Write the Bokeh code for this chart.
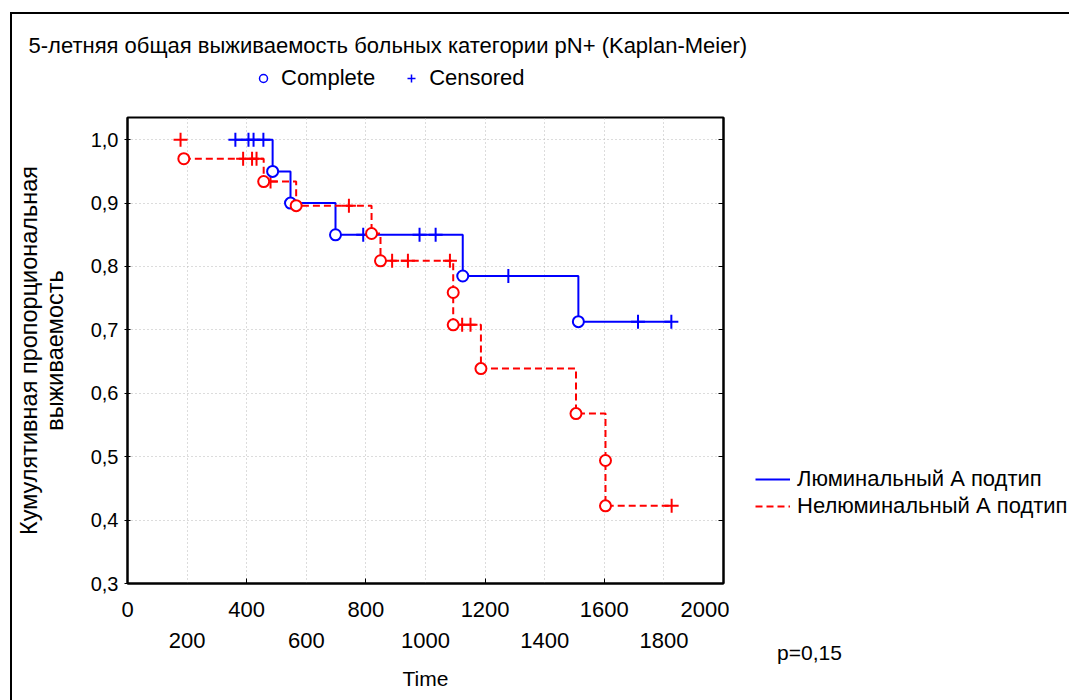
from bokeh.plotting import figure
from bokeh.layouts import column, row
from bokeh.models import (Range1d, FixedTicker, CustomJSTickFormatter, LinearAxis,
                          Legend, LegendItem, InlineStyleSheet)
from bokeh.core.properties import value
from bokeh.embed import file_html
from bokeh.resources import INLINE

NAN = float("nan")

# ---------------- data ----------------
title_text = "5-летняя общая выживаемость больных категории pN+ (Kaplan-Meier)"
y_label = "Кумулятивная пропорциональная\nвыживаемость"
x_label = "Time"
p_text = "p=0,15"
marker_names = ["Complete", "Censored"]
group_names = ["Люминальный А подтип", "Нелюминальный А подтип"]

# Luminal A (blue): complete (event) times / survival, censored times / survival
lum_event_t = [487, 547, 698, 1125, 1513]
lum_event_s = [0.950, 0.900, 0.850, 0.785, 0.713]
lum_cens_t = [362, 406, 423, 456, 791, 980, 1034, 1278, 1713, 1825]
lum_cens_s = [1.0, 1.0, 1.0, 1.0, 0.850, 0.850, 0.850, 0.785, 0.713, 0.713]
lum_start = (362, 1.0)

# Non-luminal A (red)
non_event_t = [189, 457, 566, 819, 849, 1093, 1093, 1186, 1505, 1604, 1604]
non_event_s = [0.970, 0.934, 0.896, 0.852, 0.809, 0.759, 0.708, 0.639, 0.568, 0.494, 0.4225]
non_cens_t = [178, 388, 418, 433, 480, 743, 888, 941, 1082, 1123, 1151, 1826]
non_cens_s = [1.0, 0.970, 0.970, 0.970, 0.934, 0.896, 0.809, 0.809, 0.809, 0.708, 0.708, 0.4225]
non_start = (189, 0.970)

x_ticks_row1 = [0, 400, 800, 1200, 1600, 2000]
x_ticks_row2 = [200, 600, 1000, 1400, 1800]
y_ticks = [0.3, 0.4, 0.5, 0.6, 0.7, 0.8, 0.9, 1.0]

BLUE = "#0000ff"
RED = "#ff0000"
FONT = "Liberation Sans"


def km_steps(start, ev_t, ev_s, cens_t):
    xs, ys = [start[0]], [start[1]]
    cur = start[1]
    for t, s in zip(ev_t, ev_s):
        xs += [t, t]
        ys += [cur, s]
        cur = s
    end_t = max([start[0]] + list(ev_t) + list(cens_t))
    xs.append(end_t)
    ys.append(cur)
    return xs, ys


leg_style = dict(padding=0, margin=0, border_line_color=None, background_fill_alpha=0,
                 label_text_font=FONT, label_text_color="black", label_height=20)

# ---------------- top strip: title + marker legend (page coords) ----------------
top = figure(width=1069, height=115, output_backend="svg", toolbar_location=None,
             x_range=Range1d(0, 1069), y_range=Range1d(115, 0), min_border=0,
             x_axis_location=None, y_axis_location=None, title_location=None)
top.grid.visible = False
top.outline_line_color = None
top.text(x=[28], y=[45], text=[title_text], text_font=value(FONT), text_font_size="22px",
         text_baseline="middle", text_align="left", text_color="black")
r_c = top.scatter([NAN], [NAN], marker="circle", fill_color="white", line_color=BLUE,
                  line_width=1.5)
r_p = top.scatter([NAN], [NAN], marker="cross", line_color=BLUE, line_width=1.5)
top_leg = Legend(items=[LegendItem(label=marker_names[0], renderers=[r_c]),
                        LegendItem(label=marker_names[1], renderers=[r_p])],
                 orientation="horizontal", location=(253, 24),
                 glyph_width=20, glyph_height=20, label_standoff=8, spacing=26,
                 label_text_font_size="22px", **leg_style)
top.add_layout(top_leg, "center")

# ---------------- main plot ----------------
p = figure(width=729, height=585, output_backend="svg", toolbar_location=None,
           x_range=Range1d(0, 2000), y_range=Range1d(0.3, 1.035), title_location=None,
           min_border_left=127, min_border_right=6, min_border_top=2, min_border_bottom=117)
p.background_fill_color = "white"
p.border_fill_color = "white"
p.outline_line_color = "black"
p.outline_line_width = 2

p.xgrid.ticker = FixedTicker(ticks=x_ticks_row2 + x_ticks_row1[1:-1])
p.ygrid.ticker = FixedTicker(ticks=y_ticks[1:])
for g in (p.xgrid[0], p.ygrid[0]):
    g.grid_line_color = "#b8b8b8"
    g.grid_line_dash = "1 3"
    g.grid_line_width = 1

fmt_int = CustomJSTickFormatter(code="return tick.toFixed(0);")
fmt_comma = CustomJSTickFormatter(code="return tick.toFixed(1).replace('.', ',');")
fmt_none = CustomJSTickFormatter(code="return '';")

ax1 = p.xaxis[0]
ax1.ticker = FixedTicker(ticks=x_ticks_row1)
ax1.formatter = fmt_int
ax1.major_tick_in = 5
ax1.major_tick_out = 0
ax1.minor_tick_line_color = None
ax1.axis_line_width = 2
ax1.axis_line_color = "black"
ax1.major_label_standoff = 18
ax1.major_label_text_font = FONT
ax1.major_label_text_font_size = "22px"
ax1.major_label_text_color = "black"

ax2 = LinearAxis(ticker=FixedTicker(ticks=x_ticks_row2), formatter=fmt_int)
ax2.axis_line_color = None
ax2.major_tick_line_color = None
ax2.minor_tick_line_color = None
ax2.major_label_standoff = 7
ax2.major_label_text_font = FONT
ax2.major_label_text_font_size = "22px"
ax2.major_label_text_color = "black"
ax2.axis_label = x_label
ax2.axis_label_standoff = 16
ax2.axis_label_text_font = FONT
ax2.axis_label_text_font_size = "21px"
ax2.axis_label_text_font_style = "normal"
ax2.axis_label_text_color = "black"
p.add_layout(ax2, "below")

ay = p.yaxis[0]
ay.ticker = FixedTicker(ticks=y_ticks)
ay.formatter = fmt_comma
ay.major_tick_in = 3
ay.major_tick_out = 3
ay.minor_tick_line_color = None
ay.axis_line_width = 2
ay.axis_line_color = "black"
ay.major_label_standoff = 6
ay.major_label_text_font = FONT
ay.major_label_text_font_size = "20px"
ay.major_label_text_color = "black"
ay.axis_label = y_label
ay.axis_label_standoff = 20
ay.axis_label_text_font = FONT
ay.axis_label_text_font_size = "23.5px"
ay.axis_label_text_font_style = "normal"
ay.axis_label_text_color = "black"
ay.axis_label_text_line_height = 1.0

ayr = LinearAxis(ticker=FixedTicker(ticks=y_ticks), formatter=fmt_none)
ayr.major_tick_in = 5
ayr.major_tick_out = 0
ayr.minor_tick_line_color = None
ayr.axis_line_width = 2
ayr.major_label_text_font_size = "1px"
ayr.major_label_standoff = 0
p.add_layout(ayr, "right")

lx, ly = km_steps(lum_start, lum_event_t, lum_event_s, lum_cens_t)
nx, ny = km_steps(non_start, non_event_t, non_event_s, non_cens_t)
p.line(lx, ly, line_color=BLUE, line_width=2)
p.line(nx, ny, line_color=RED, line_width=2, line_dash="7 4")
p.scatter(lum_cens_t, lum_cens_s, marker="cross", size=14, line_color=BLUE, line_width=2)
p.scatter(non_cens_t, non_cens_s, marker="cross", size=14, line_color=RED, line_width=2)
p.scatter(lum_event_t, lum_event_s, marker="circle", size=11, fill_color="white",
          line_color=BLUE, line_width=2)
p.scatter(non_event_t, non_event_s, marker="circle", size=11, fill_color="white",
          line_color=RED, line_width=2)

# ---------------- right strip: group legend + p value (page coords) ----------------
side = figure(width=340, height=585, output_backend="svg", toolbar_location=None,
              x_range=Range1d(729, 1069), y_range=Range1d(583, 117), title_location=None,
              min_border_left=0, min_border_right=0, min_border_top=2, min_border_bottom=117,
              x_axis_location=None, y_axis_location=None)
side.grid.visible = False
side.outline_line_color = None
r_lum = side.line([NAN, NAN], [NAN, NAN], line_color=BLUE, line_width=2)
r_non = side.line([NAN, NAN], [NAN, NAN], line_color=RED, line_width=2, line_dash="7 4")
side_leg = Legend(items=[LegendItem(label=group_names[0], renderers=[r_lum]),
                         LegendItem(label=group_names[1], renderers=[r_non])],
                  orientation="vertical", location=(26, 64),
                  glyph_width=35, glyph_height=20, label_standoff=7, spacing=1,
                  label_text_font_size="22px", **leg_style)
side.add_layout(side_leg, "center")

p_axis = LinearAxis(ticker=FixedTicker(ticks=[809]),
                    formatter=CustomJSTickFormatter(args=dict(t=p_text), code="return t;"))
p_axis.axis_line_color = None
p_axis.major_tick_line_color = None
p_axis.minor_tick_line_color = None
p_axis.major_label_standoff = 51
p_axis.major_label_text_font = FONT
p_axis.major_label_text_font_size = "21px"
p_axis.major_label_text_color = "black"
side.add_layout(p_axis, "below")

layout = column(top, row(p, side))
layout.stylesheets = [InlineStyleSheet(css="""
:host::after { content: ''; position: absolute; left: 10px; top: 12px;
  width: 1059px; height: 688px; border-left: 2px solid black; border-top: 2px solid black;
  box-sizing: border-box; pointer-events: none; }
""")]

open("out.html", "w").write(file_html(layout, INLINE))
